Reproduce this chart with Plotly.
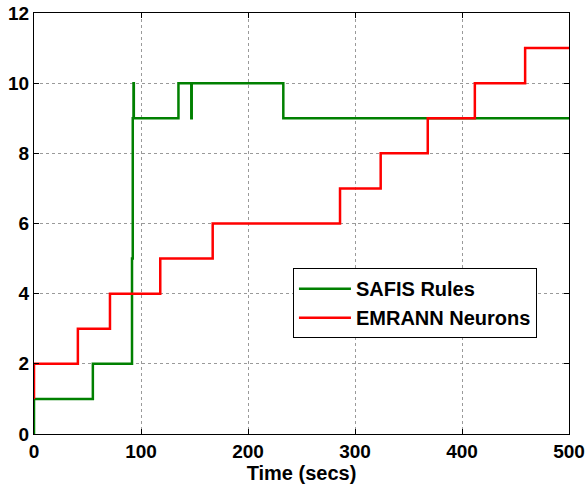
import plotly.graph_objects as go

# SAFIS rules: step change times and values (hv steps)
safis_t = [0, 0, 55, 91, 91.6, 92.3, 93.0, 93.3, 135, 147.0, 147.4, 233, 500]
safis_v = [0, 1, 2, 2, 5, 9, 10, 9, 10, 9, 10, 9, 9]

# EMRANN neurons
emrann_t = [0, 0, 41, 71, 118, 167, 286, 324, 368, 412, 459, 500]
emrann_v = [1, 2, 3, 4, 5, 6, 7, 8, 9, 10, 11, 11]

x_ticks = [0, 100, 200, 300, 400, 500]
y_ticks = [0, 2, 4, 6, 8, 10, 12]

FAM = "Liberation Sans, Arial, sans-serif"

fig = go.Figure()
fig.add_trace(go.Scatter(x=safis_t, y=safis_v, mode="lines", name="<b>SAFIS Rules</b>",
                         line=dict(color="#008000", width=2.5, shape="hv")))
fig.add_trace(go.Scatter(x=emrann_t, y=emrann_v, mode="lines", name="<b>EMRANN Neurons</b>",
                         line=dict(color="#ff0000", width=2.5, shape="hv")))

axis_common = dict(showline=True, linecolor="black", linewidth=1, mirror="ticks",
                   ticks="inside", ticklen=5, tickcolor="black", automargin=False,
                   showgrid=True, gridcolor="#9a9a9a", griddash="dot", gridwidth=1,
                   zeroline=False,
                   tickfont=dict(family=FAM, size=19, color="black", weight="bold"))
fig.update_xaxes(range=[0, 500], tickvals=x_ticks,
                 ticktext=[f"<b>{v}</b>" for v in x_ticks], **axis_common,
                 title=dict(text="<b>Time (secs)</b>",
                            font=dict(family=FAM, size=20, color="black"), standoff=2))
fig.update_yaxes(range=[0, 12], tickvals=y_ticks,
                 ticktext=[f"<b>{v}</b>" for v in y_ticks], **axis_common)

fig.update_layout(
    width=587, height=489,
    margin=dict(l=34, r=18, t=13, b=55),
    plot_bgcolor="white", paper_bgcolor="white",
    font=dict(family=FAM, size=19, color="black"),
    showlegend=True,
    legend=dict(x=0.484, y=0.394, xanchor="left", yanchor="top",
                bordercolor="black", borderwidth=1, bgcolor="white",
                font=dict(family=FAM, size=20, color="black", weight="bold"),
                itemwidth=52, tracegroupgap=0),
)
fig.write_html("out.html", config={"displayModeBar": False},
               post_script="document.body.style.margin='0';document.body.style.padding='0';")
